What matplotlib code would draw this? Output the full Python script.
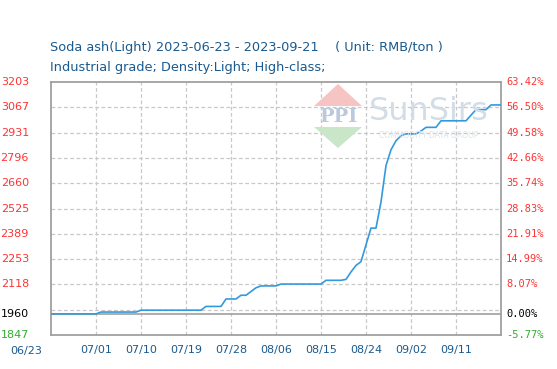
import matplotlib.pyplot as plt
import matplotlib.dates as mdates
from matplotlib.patches import Polygon
import pandas as pd

# daily price, RMB/ton, 2023-06-22 .. 2023-09-20
dates = pd.date_range("2023-06-22", "2023-09-20", freq="D")
prices = [
    1960, 1960, 1960, 1960, 1960, 1960, 1960, 1960, 1960, 1960,
    1970, 1970, 1970, 1970, 1970, 1970, 1970, 1970,
    1980, 1980, 1980, 1980, 1980, 1980, 1980, 1980, 1980, 1980, 1980, 1980, 1980,
    2000, 2000, 2000, 2000,
    2040, 2040, 2040,
    2060, 2060,
    2080, 2100,
    2110, 2110, 2110, 2110,
    2120, 2120, 2120, 2120, 2120, 2120, 2120, 2120, 2120,
    2140, 2140, 2140, 2140,
    2145, 2185, 2220, 2240, 2330,
    2420, 2420,
    2560, 2755, 2840, 2888, 2915,
    2925, 2925, 2925,
    2940,
    2960, 2960, 2960,
    2995, 2995, 2995, 2995, 2995, 2995,
    3025,
    3055, 3055, 3055,
    3080, 3080, 3080,
]

base = 1960
y_min, y_max = 1846.9, 3203.0
left_labels = ["1847", "", "2118", "2253", "2389", "2525", "2660",
               "2796", "2931", "3067", "3203"]
right_labels = ["-5.77%", "", "8.07%", "14.99%", "21.91%", "28.83%", "35.74%",
                "42.66%", "49.58%", "56.50%", "63.42%"]
tick_dates = ["2023-07-01", "2023-07-10", "2023-07-19", "2023-07-28", "2023-08-06",
              "2023-08-15", "2023-08-24", "2023-09-02", "2023-09-11"]

W, H = 557, 369
fig = plt.figure(figsize=(W / 100, H / 100), dpi=100)
ax = fig.add_axes([51 / W, 1 - 335 / H, 450 / W, 253 / H])

red = "#ff3333"
blue_txt = "#1a5a8e"

# watermark (logo)
def px(x, y):
    return (x / W, 1 - y / H)

fig.patches.append(Polygon([px(338, 84), px(362, 106), px(314, 106)],
                           closed=True, transform=fig.transFigure,
                           facecolor="#f7c4c4", edgecolor="none", zorder=0.5))
fig.patches.append(Polygon([px(314, 127), px(362, 127), px(338, 148)],
                           closed=True, transform=fig.transFigure,
                           facecolor="#c9e6c9", edgecolor="none", zorder=0.5))
fig.text(338 / W, 1 - 117 / H, "PPI", color="#bcc8dc", fontsize=14,
         fontweight="bold", fontfamily="DejaVu Serif", ha="center", va="center", zorder=0.6)
fig.text(429 / W, 1 - 111 / H, "SunSirs", color="#d3dde7", fontsize=23,
         ha="center", va="center", zorder=0.6)
fig.text(429 / W, 1 - 135 / H, "COMMODITY DATA GROUP", color="#dde4ea", fontsize=5.5,
         ha="center", va="center", zorder=0.6)
ax.patch.set_alpha(0)

step = (y_max - y_min) / 10
levels = [y_min + step * k for k in range(11)]

for lv in levels[1:10]:
    ax.axhline(lv, color="#c8c8c8", lw=0.9, ls=(0, (3, 2)), zorder=1)
for d in tick_dates:
    ax.axvline(pd.Timestamp(d), color="#c8c8c8", lw=0.9, ls=(0, (3, 2)), zorder=1)
ax.axhline(base, color="#a0a0a0", lw=1.2, zorder=2)

ax.plot(dates, prices, color="#3399dd", lw=1.2, zorder=3)

ax.set_xlim(dates[0], dates[-1])
ax.set_ylim(y_min, y_max)
for s in ax.spines.values():
    s.set_color("#a0a0a0")
    s.set_linewidth(1.3)

ax.set_xticks([pd.Timestamp(d) for d in tick_dates])
ax.xaxis.set_major_formatter(mdates.DateFormatter("%m/%d"))
ax.tick_params(axis="x", length=0, pad=7, labelsize=8, labelcolor=blue_txt)
ax.set_yticks([])

# y labels
for k, lv in enumerate(levels):
    if not left_labels[k]:
        continue
    c = red
    if k == 0:
        c = "#33aa33"
    ax.text(-0.049, lv, left_labels[k], transform=ax.get_yaxis_transform(),
            ha="right", va="center", fontsize=8, color=c)
    ax.text(1.011, lv, right_labels[k], transform=ax.get_yaxis_transform(),
            ha="left", va="center", fontsize=7.5, color=c, fontfamily="DejaVu Sans Mono")
ax.text(-0.049, base, "1960", transform=ax.get_yaxis_transform(),
        ha="right", va="center", fontsize=8, color="black")
ax.text(1.011, base, "0.00%", transform=ax.get_yaxis_transform(),
        ha="left", va="center", fontsize=7.5, color="black", fontfamily="DejaVu Sans Mono")

fig.text(26 / W, 1 - 351 / H, "06/23", ha="center", va="center",
         fontsize=8, color=blue_txt)

fig.text(50 / W, 1 - 47 / H, "Soda ash(Light) 2023-06-23 - 2023-09-21    ( Unit: RMB/ton )",
         ha="left", va="center", fontsize=9.3, color=blue_txt)
fig.text(50 / W, 1 - 68 / H, "Industrial grade; Density:Light; High-class;",
         ha="left", va="center", fontsize=9.3, color=blue_txt)

fig.savefig("out.png", dpi=100)
